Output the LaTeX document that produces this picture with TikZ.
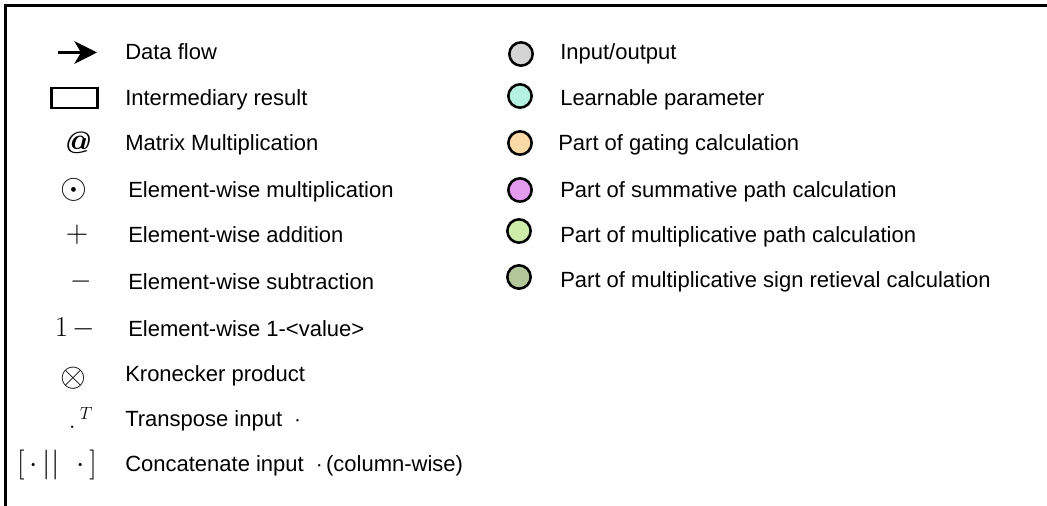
\documentclass[tikz,border=0pt]{standalone}
\usepackage[no-math]{fontspec}
\setmainfont{Liberation Sans}
\newfontfamily\lmbolditalic{lmroman10-bolditalic.otf}
\usetikzlibrary{arrows.meta}

\definecolor{ioGray}{HTML}{D4D4D4}
\definecolor{paramAqua}{HTML}{B5F2E3}
\definecolor{gateOrange}{HTML}{F9D9A6}
\definecolor{sumPink}{HTML}{E39BEE}
\definecolor{mulGreen}{HTML}{CFECA8}
\definecolor{signOlive}{HTML}{B4C79A}

\tikzset{
  lbl/.style={anchor=base west, inner sep=0pt, font=\fontsize{16.5pt}{20pt}\selectfont},
  sym/.style={inner sep=0pt, font=\fontsize{16.5pt}{20pt}\selectfont},
  swatch/.style={circle, draw=black, line width=1.9pt, minimum size=17.5pt, inner sep=0pt},
}

\begin{document}
\begin{tikzpicture}[x=0.75pt, y=-0.75pt]
\useasboundingbox (0,0) rectangle (1047,506);

% open frame: top and left edges
\draw[line width=2pt] (5.5,506) -- (5.5,5.5) -- (1047,5.5);

% ---- left column: symbols ----
\coordinate (flowA) at (58,52.5);
\coordinate (flowB) at (97,52.5);
\draw[line width=2pt, -{Stealth[length=17pt, width=17pt, inset=5pt]}] (flowA) -- (flowB);

\node[draw=black, line width=1.6pt, minimum width=34.5pt, minimum height=15.5pt, inner sep=0pt] (box) at (74.5,98) {};

\node[sym, scale=1.4] (matmul) at (76,143) {\lmbolditalic @};
\node[sym, scale=1.5] (odot) at (74,190) {$\odot$};
\node[sym, scale=1.35] (plus) at (77,235) {$+$};
\node[sym, scale=1.2] (minus) at (81,282) {$-$};
\node[sym, scale=1.25] (oneminus) at (75,328) {$1\,{-}$};
\node[sym, scale=1.2, font=\fontsize{21pt}{24pt}\selectfont] (kron) at (73,378) {$\otimes$};
\node[sym, scale=1.1] (transp) at (81,418) {$.\,^{T}$};
\node[sym, scale=1.3, font=\fontsize{19pt}{22pt}\selectfont] (concat) at (57,465) {$[\,\cdot\,||\;\;\cdot\,]$};

% ---- left column: labels ----
\node[lbl] (tflow)   at (125,60)  {Data flow};
\node[lbl] (tbox)    at (125,106) {Intermediary result};
\node[lbl] (tmatmul) at (125,151) {Matrix Multiplication};
\node[lbl] (todot)   at (128,198) {Element-wise multiplication};
\node[lbl] (tplus)   at (128,243) {Element-wise addition};
\node[lbl] (tminus)  at (128,290) {Element-wise subtraction};
\node[lbl] (tone)    at (128,336) {Element-wise 1-<value>};
\node[lbl] (tkron)   at (125,381) {Kronecker product};
\node[lbl] (ttransp) at (125,426) {Transpose input \ $\cdot$};
\node[lbl] (tconcat) at (125,471) {Concatenate input \ $\cdot$\,(column-wise)};

% ---- right column: colour swatches ----
\node[swatch, fill=ioGray]     (cio)    at (521,54)  {};
\node[swatch, fill=paramAqua]  (cparam) at (520,96)  {};
\node[swatch, fill=gateOrange] (cgate)  at (520,143) {};
\node[swatch, fill=sumPink]    (csum)   at (520,190) {};
\node[swatch, fill=mulGreen]   (cmul)   at (519,231) {};
\node[swatch, fill=signOlive]  (csign)  at (519,277) {};

\node[lbl] (tio)    at (560,60)  {Input/output};
\node[lbl] (tparam) at (560,106) {Learnable parameter};
\node[lbl] (tgate)  at (558,151) {Part of gating calculation};
\node[lbl] (tsum)   at (560,198) {Part of summative path calculation};
\node[lbl] (tmul)   at (560,243) {Part of multiplicative path calculation};
\node[lbl] (tsign)  at (560,288) {Part of multiplicative sign retieval calculation};
\end{tikzpicture}
\end{document}
